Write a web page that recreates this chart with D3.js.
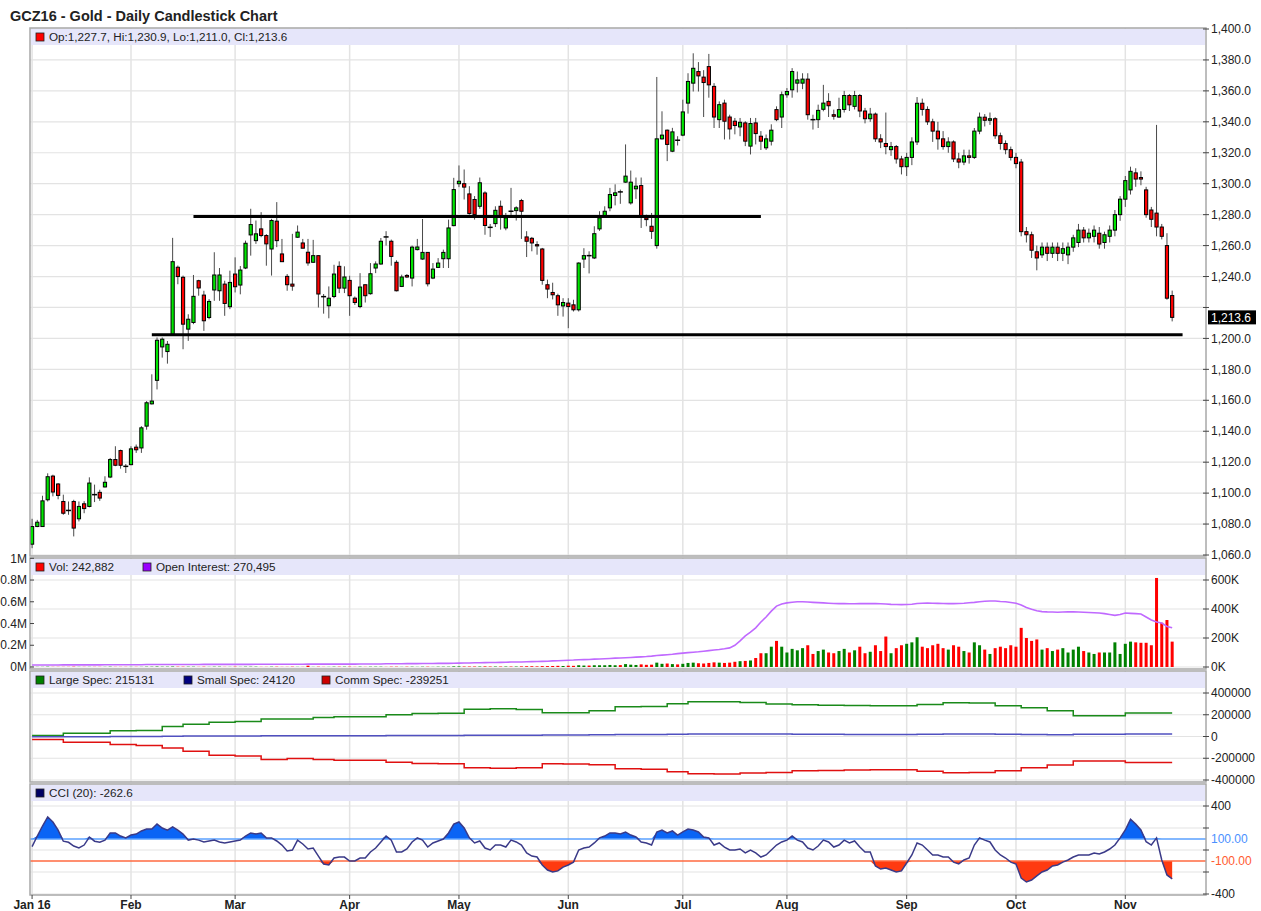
<!DOCTYPE html>
<html><head><meta charset="utf-8">
<script src="https://cdn.jsdelivr.net/npm/d3@7"></script>
<style>body{margin:0;background:#fff;}svg{display:block;font-family:"Liberation Sans",Arial,sans-serif;}</style>
</head><body><svg id="c" width="1261" height="911"></svg>
<script>
// ---------------- DATA ----------------
const title = "GCZ16 - Gold - Daily Candlestick Chart";
const startDate = "2016-01-04";
const holidays = ["2016-01-18","2016-02-15","2016-03-25","2016-05-30","2016-07-04","2016-09-05"];
const monthLabels = ["Jan 16","Feb","Mar","Apr","May","Jun","Jul","Aug","Sep","Oct","Nov"];

const open = [
1067.0,1078.4,1078.4,1095.7,1111.0,1105.9,1094.6,1088.9,1094.6,1083.4,
1093.1,1091.4,1099.2,1100.5,1104.0,1110.4,1121.7,1127.5,1117.6,1118.4,
1129.7,1129.2,1143.3,1157.7,1172.9,1194.5,1191.5,1202.7,1246.0,1239.5,
1206.0,1210.3,1237.3,1228.0,1213.5,1231.3,1230.8,1235.1,1220.5,1241.6,
1234.5,1245.5,1266.9,1263.2,1270.8,1266.5,1257.8,1275.8,1254.6,1240.1,
1235.1,1265.4,1261.7,1255.7,1249.2,1253.5,1227.2,1221.1,1227.1,1246.6,
1232.5,1237.5,1226.0,1220.6,1234.7,1228.9,1245.5,1248.1,1265.8,1262.8,
1249.2,1233.6,1240.7,1239.0,1257.4,1251.3,1255.6,1239.0,1245.9,1251.5,
1251.5,1272.9,1300.0,1300.0,1293.4,1289.8,1285.4,1294.0,1272.0,1274.2,
1285.4,1271.4,1282.4,1282.6,1289.1,1265.6,1264.7,1260.6,1257.8,1234.7,
1229.7,1227.6,1221.0,1222.8,1221.7,1218.5,1251.3,1253.7,1252.0,1270.8,
1279.4,1284.4,1292.4,1294.9,1301.0,1287.6,1296.7,1298.8,1277.9,1272.5,
1260.0,1329.0,1334.6,1321.0,1328.3,1331.4,1352.1,1365.0,1372.5,1368.9,
1375.7,1362.9,1341.4,1352.1,1343.1,1340.4,1336.7,1339.3,1324.3,1339.3,
1330.7,1323.2,1327.5,1347.9,1343.1,1357.5,1360.7,1365.0,1365.0,1367.6,
1341.6,1341.4,1348.1,1353.2,1344.6,1343.1,1348.0,1357.0,1350.0,1357.0,
1347.0,1342.0,1345.0,1329.0,1326.0,1322.0,1324.0,1316.0,1311.0,1317.0,
1327.0,1352.0,1348.0,1340.0,1334.0,1329.0,1324.0,1327.0,1316.0,1314.0,
1318.0,1317.0,1334.0,1343.0,1341.0,1342.0,1331.0,1326.0,1322.0,1317.0,
1314.0,1269.0,1267.0,1256.0,1254.0,1259.0,1255.0,1259.0,1255.0,1254.0,
1259.0,1262.0,1270.0,1265.0,1266.0,1268.0,1262.0,1266.0,1270.0,1280.0,
1290.0,1296.0,1307.0,1304.0,1296.0,1283.0,1281.0,1272.0,1260.0,1227.7];
const high = [
1083.4,1082.7,1098.3,1112.8,1111.9,1106.5,1099.0,1094.6,1095.7,1094.6,
1094.8,1110.2,1105.5,1102.2,1110.9,1122.7,1130.3,1128.1,1118.8,1130.3,
1131.4,1143.3,1159.5,1176.8,1200.6,1200.6,1198.3,1265.0,1247.1,1240.6,
1215.6,1241.0,1237.9,1230.8,1225.4,1255.7,1245.5,1237.3,1243.8,1252.4,
1246.8,1263.2,1283.8,1276.2,1281.6,1267.4,1277.3,1288.1,1264.3,1241.6,
1267.6,1273.0,1264.3,1264.3,1263.7,1253.5,1228.7,1233.6,1247.6,1249.8,
1246.6,1240.5,1227.1,1242.2,1234.7,1248.7,1249.8,1264.9,1269.3,1263.9,
1250.5,1241.2,1241.6,1260.0,1264.3,1277.2,1255.6,1248.7,1251.9,1257.4,
1276.8,1303.8,1311.8,1309.2,1298.4,1292.0,1304.0,1295.1,1274.0,1285.4,
1289.1,1281.1,1297.3,1285.4,1290.2,1269.3,1265.6,1262.8,1258.5,1238.0,
1236.0,1228.9,1226.0,1226.0,1225.0,1249.2,1258.3,1256.3,1272.5,1282.2,
1285.4,1297.3,1299.6,1296.2,1325.4,1308.5,1304.0,1304.0,1280.0,1281.1,
1369.0,1346.8,1335.0,1336.1,1330.7,1354.3,1371.4,1384.3,1378.6,1373.4,
1383.9,1365.0,1353.2,1354.3,1344.6,1342.5,1342.5,1340.4,1342.5,1342.5,
1334.0,1331.8,1338.4,1350.0,1359.6,1361.8,1374.7,1372.5,1371.4,1371.4,
1344.6,1351.1,1363.9,1358.5,1347.9,1355.6,1360.0,1358.0,1360.0,1358.0,
1349.0,1349.0,1346.0,1332.0,1346.0,1327.0,1325.0,1318.0,1320.0,1330.0,
1356.0,1355.0,1350.0,1342.0,1340.0,1334.0,1330.0,1328.0,1320.0,1322.0,
1322.0,1336.0,1346.0,1345.0,1346.0,1343.0,1333.0,1328.0,1324.0,1320.0,
1316.0,1272.0,1269.0,1260.0,1262.0,1262.0,1262.0,1262.0,1262.0,1262.0,
1267.0,1274.0,1272.0,1271.0,1273.0,1272.0,1269.0,1273.0,1283.0,1292.0,
1305.0,1311.0,1310.0,1308.0,1298.0,1285.0,1338.0,1274.0,1268.0,1230.9];
const low = [
1064.4,1078.0,1078.4,1094.6,1097.9,1096.0,1086.0,1086.0,1072.0,1081.7,
1087.0,1090.8,1094.2,1095.0,1103.6,1109.7,1117.4,1115.8,1113.0,1118.0,
1126.0,1126.0,1141.0,1157.3,1167.0,1187.6,1183.7,1202.3,1235.0,1193.0,
1198.4,1209.2,1227.6,1204.9,1212.4,1224.3,1224.3,1214.6,1218.9,1229.7,
1228.5,1244.8,1253.5,1261.1,1265.4,1247.0,1240.6,1259.0,1249.6,1230.8,
1230.8,1265.0,1259.0,1247.0,1249.0,1220.0,1216.0,1213.0,1226.0,1229.3,
1229.3,1214.6,1221.6,1219.5,1223.2,1228.3,1242.2,1247.6,1260.0,1247.0,
1230.4,1233.2,1239.0,1233.6,1256.9,1250.8,1233.6,1238.3,1245.5,1245.5,
1245.5,1272.5,1297.8,1289.8,1280.0,1276.8,1283.8,1267.0,1265.6,1272.0,
1270.3,1269.9,1278.5,1276.2,1264.3,1252.6,1256.3,1254.1,1234.7,1226.0,
1225.2,1214.6,1214.1,1206.6,1217.4,1217.4,1245.5,1242.0,1251.3,1269.5,
1278.5,1282.2,1286.0,1287.0,1300.6,1286.5,1290.2,1271.4,1272.5,1264.3,
1258.0,1328.5,1314.6,1320.4,1324.7,1330.7,1345.3,1359.6,1359.6,1343.1,
1355.6,1336.0,1336.0,1328.6,1328.6,1331.9,1330.7,1324.3,1318.9,1325.4,
1321.8,1321.8,1324.7,1340.4,1336.0,1355.6,1355.6,1359.0,1361.1,1341.4,
1335.0,1336.0,1346.8,1343.1,1341.4,1342.5,1346.0,1347.0,1348.0,1343.0,
1339.0,1340.0,1327.0,1323.0,1319.0,1318.0,1313.0,1306.0,1305.0,1312.0,
1325.0,1344.0,1338.0,1327.0,1322.0,1322.0,1320.0,1314.0,1310.0,1312.0,
1313.0,1316.0,1332.0,1337.0,1338.0,1329.0,1322.0,1319.0,1315.0,1310.0,
1266.0,1262.0,1252.0,1244.0,1252.0,1250.0,1252.0,1250.0,1250.0,1248.0,
1256.0,1259.0,1262.0,1262.0,1262.0,1258.0,1258.0,1262.0,1266.0,1276.0,
1285.0,1293.0,1298.0,1299.0,1278.0,1272.0,1266.0,1264.0,1225.0,1211.0];
const close = [
1078.4,1081.2,1095.0,1110.6,1100.7,1098.5,1087.0,1088.7,1077.4,1091.4,
1090.0,1106.5,1098.8,1096.8,1107.0,1121.7,1118.0,1118.0,1117.0,1128.6,
1128.0,1142.2,1158.4,1159.5,1198.8,1199.5,1196.2,1249.6,1240.0,1209.2,
1212.4,1227.2,1232.6,1211.4,1223.9,1241.0,1241.0,1222.6,1236.2,1233.4,
1244.2,1261.5,1273.6,1267.6,1266.5,1261.1,1276.2,1263.2,1249.6,1234.7,
1233.8,1268.7,1258.3,1248.8,1253.5,1228.7,1226.8,1226.0,1241.6,1232.5,
1239.7,1227.6,1223.2,1233.2,1227.6,1241.8,1248.1,1262.8,1265.4,1253.0,
1230.8,1239.7,1239.7,1259.0,1259.1,1255.6,1235.3,1244.8,1248.7,1255.6,
1271.4,1296.2,1301.6,1297.8,1280.7,1280.0,1300.6,1273.0,1271.6,1282.8,
1279.0,1277.9,1282.0,1284.4,1282.2,1262.8,1261.7,1259.8,1237.5,1231.9,
1228.2,1221.7,1223.2,1220.6,1218.5,1248.7,1253.5,1253.3,1267.7,1277.9,
1282.2,1293.0,1294.1,1294.5,1304.9,1301.0,1298.4,1279.0,1276.8,1269.2,
1329.0,1331.4,1325.4,1333.5,1327.9,1346.4,1366.1,1374.6,1369.7,1365.4,
1363.9,1343.1,1351.1,1340.4,1335.4,1337.6,1339.7,1327.5,1338.9,1332.4,
1327.5,1329.0,1334.6,1341.4,1357.5,1359.6,1372.5,1367.1,1367.6,1344.6,
1341.2,1347.4,1352.1,1350.4,1343.6,1347.9,1357.0,1351.0,1357.0,1347.0,
1342.0,1345.0,1329.0,1327.0,1324.0,1324.0,1316.0,1311.0,1317.0,1327.0,
1352.0,1348.0,1340.0,1334.0,1329.0,1324.0,1327.0,1316.0,1314.0,1318.0,
1317.0,1334.0,1343.0,1341.0,1342.0,1331.0,1326.0,1322.0,1317.0,1313.0,
1269.0,1267.0,1257.0,1252.0,1259.0,1255.0,1259.0,1255.0,1258.0,1259.0,
1265.0,1270.0,1265.0,1268.0,1270.0,1261.0,1267.0,1270.0,1280.0,1290.0,
1302.0,1308.0,1303.0,1303.0,1280.0,1277.0,1272.0,1266.0,1226.0,1213.6];

// volume and open interest, thousands of contracts
const volume = [
1,1,1,2,1,1,1,1,2,1, 1,1,1,1,1,2,1,1,1,1, 1,1,2,2,3,2,2,3,2,2, 2,2,1,2,1,2,2,1,1,2,
1,2,2,2,1,1,2,2,1,1, 2,1,1,9,1,2,1,1,2,2, 2,2,1,2,1,2,2,2,1,2, 2,1,2,2,1,2,2,1,2,2,
2,4,4,3,3,3,3,4,3,3, 3,3,3,3,4,5,5,4,6,6, 7,8,7,9,8,12,10,10,12,12, 12,14,12,13,20,16,14,18,15,16,
30,22,24,20,18,22,28,30,26,24, 28,32,30,28,30,36,40,42,45,62, 95,95,140,180,140,100,125,115,130,150,
90,110,120,100,95,110,125,100,115,140, 95,105,150,110,210,95,130,150,160,170,
205,140,130,150,160,130,120,150,140,110, 100,170,150,120,90,130,140,130,150,140,
270,200,180,190,120,130,110,120,130,100, 120,140,110,100,90,100,100,100,170,90,
160,175,170,167,167,150,614,305,324,175];
const openInterest = [
14,14,14,14,14,14,15,15,15,15, 15,15,15,15,16,16,16,16,16,16, 16,16,17,17,17,17,17,17,17,17,
17,17,17,18,18,18,18,18,18,18, 18,18,18,19,19,19,19,19,19,19, 19,19,19,20,20,20,20,20,20,20,
20,20,20,21,21,21,21,21,22,22, 22,22,23,23,23,24,24,24,25,25, 25,26,27,28,28,29,29,30,31,31,
32,33,34,34,35,36,37,38,39,40, 42,43,45,47,48,50,51,52,54,55, 57,59,61,62,64,66,68,70,72,75,
79,82,85,88,92,96,99,102,105,109, 113,117,121,126,132,150,180,214,240,270,
310,345,385,420,435,442,447,450,450,448, 446,444,442,440,438,437,437,436,436,437,
437,438,437,436,434,432,431,430,431,433, 438,440,441,440,439,438,437,437,438,440,
443,446,450,453,455,455,452,450,445,440, 427,410,398,388,382,380,379,378,379,380,
380,379,378,376,374,372,368,362,356,362, 372,370,368,365,345,324,310,303,280,270.5];

// Commitments of Traders (weekly, thousands of contracts)
const cotDates = ["2016-01-04","2016-01-12","2016-01-19","2016-01-26","2016-02-02","2016-02-09","2016-02-16","2016-02-23",
"2016-03-01","2016-03-08","2016-03-15","2016-03-22","2016-03-29","2016-04-05","2016-04-12","2016-04-19","2016-04-26",
"2016-05-03","2016-05-10","2016-05-17","2016-05-24","2016-05-31","2016-06-07","2016-06-14","2016-06-21","2016-06-28",
"2016-07-05","2016-07-12","2016-07-19","2016-07-26","2016-08-02","2016-08-09","2016-08-16","2016-08-23","2016-08-30",
"2016-09-06","2016-09-13","2016-09-20","2016-09-27","2016-10-04","2016-10-11","2016-10-18","2016-10-25","2016-11-01"];
const largeSpec = [9,30,30,52,55,91,112,130,139,161,161,175,182,182,200,212,214,250,255,248,218,218,236,273,275,301,319,320,312,300,292,288,286,282,282,295,310,308,282,264,236,190,190,215.131];
const smallSpec = [-3,-2,-2,0,0,3,4,5,5,6,6,8,8,8,9,10,10,12,12,12,14,14,16,18,18,20,22,22,22,22,20,20,18,18,18,20,22,22,20,18,16,20,20,24.12];
const commSpec = [-27,-52,-52,-73,-82,-106,-136,-173,-179,-212,-203,-212,-218,-218,-236,-248,-250,-288,-292,-288,-251,-253,-260,-297,-300,-325,-343,-344,-335,-330,-316,-312,-308,-306,-306,-320,-334,-332,-316,-288,-262,-225,-225,-239.251];

const cci = [
30,127,218,300,254,180,80,70,36,18, 45,118,80,70,90,155,155,127,110,136,
145,173,190,190,236,200,180,210,180,145, 90,100,90,73,82,90,73,64,73,82,
90,127,155,145,155,110,110,82,45,-9, 0,90,55,9,18,-55,-127,-136,-73,-64,
-64,-100,-100,-73,-73,-18,18,73,127,90, -18,-18,9,73,110,90,27,64,82,100,
155,236,255,200,110,64,82,18,0,45, 45,27,90,73,45,-27,-55,-64,-136,-182,
-200,-190,-155,-136,-110,0,18,27,64,110, 127,155,155,145,164,136,118,73,64,45,
164,182,155,173,136,164,190,182,164,118, 110,45,64,27,0,0,9,-27,0,-27,
-64,-45,0,45,73,90,127,90,73,18, 0,36,90,73,27,45,90,64,82,27,
-18,-18,-145,-173,-164,-182,-200,-190,-118,-45, 64,45,0,-45,-45,-64,-64,-110,-127,-91,
-73,45,110,90,73,0,-45,-73,-110,-127, -255,-291,-273,-236,-200,-182,-145,-136,-110,-91,
-64,-45,-45,-45,-27,-36,-18,9,45,110, 182,279,235,182,75,45,110,-91,-227,-262.6];

const supportLines = [
  {from:"2016-02-18", to:"2016-07-25", price:1278.8},
  {from:"2016-02-05", to:"2016-11-16", price:1202.4}
];
const priceTicks = d3.range(1060, 1401, 20);
const volRightTicks = [0,200,400,600];
const volLeftTicks = [0,200,400,600,800,1000];
const cotTicks = [400,200,0,-200,-400];
const cciTicks = [400,200,0,-200,-400];
const legendMain = "Op:1,227.7, Hi:1,230.9, Lo:1,211.0, Cl:1,213.6";
const legendVol = ["Vol: 242,882","Open Interest: 270,495"];
const legendCot = ["Large Spec: 215131","Small Spec: 24120","Comm Spec: -239251"];
const legendCci = "CCI (20): -262.6";
const lastLabel = "1,213.6";

// ---------------- CALENDAR ----------------
const hol = new Set(holidays);
const days = [];
{
  const d = new Date(startDate + "T00:00:00Z");
  while (days.length < 226) {
    const s = d.toISOString().slice(0,10), wd = d.getUTCDay();
    if (wd !== 0 && wd !== 6 && !hol.has(s)) days.push(s);
    d.setUTCDate(d.getUTCDate() + 1);
  }
}
const idx = new Map(days.map((s,i)=>[s,i]));
const n = close.length;
const monthStarts = days.map((s,i)=>i).filter(i => i===0 || days[i].slice(5,7)!==days[i-1].slice(5,7)).slice(0, monthLabels.length);

// ---------------- LAYOUT ----------------
const svg = d3.select("#c");
const X0 = 30, X1 = 1206;
const FONT = '"Liberation Sans", Arial, sans-serif';
const LF = 11.7;
const x = d3.scaleLinear().domain([-0.4, 225.5]).range([X0, X1]);
const P = {
  main:{top:28,bottom:556}, vol:{top:558,bottom:669}, cot:{top:671,bottom:782}, cci:{top:784,bottom:895}
};
const yP = d3.scaleLinear().domain([1060,1400]).range([555,29]);
const yV = d3.scaleLinear().domain([0,600]).range([667,580]);
const yVL = d3.scaleLinear().domain([0,1000]).range([667,558.3]);
const yC = d3.scaleLinear().domain([-400,400]).range([780,693]);
const yI = d3.scaleLinear().domain([-400,400]).range([894,806]);

svg.append("rect").attr("width",1261).attr("height",911).attr("fill","#fff");

function panelBase(p, hTicks, yS) {
  const g = svg.append("g");
  g.selectAll("line.h").data(hTicks).join("line")
    .attr("x1",X0).attr("x2",X1).attr("y1",d=>yS(d)).attr("y2",d=>yS(d))
    .attr("stroke","#e3e3e3").attr("stroke-width",1.2);
  g.selectAll("line.v").data(monthStarts).join("line")
    .attr("x1",d=>x(d)).attr("x2",d=>x(d)).attr("y1",p.top).attr("y2",p.bottom)
    .attr("stroke","#e3e3e3").attr("stroke-width",1.5);
  g.append("rect").attr("x",X0+1).attr("y",p.top+1).attr("width",X1-X0-2).attr("height",16)
    .attr("fill","#e6e6fa");
  return g;
}
function frame(p){
  svg.append("rect").attr("x",X0).attr("y",p.top).attr("width",X1-X0).attr("height",p.bottom-p.top)
    .attr("fill","none").attr("stroke","#a8a8a8").attr("stroke-width",1.5);
}
function rightAxis(ticks, yS, fmt) {
  const g = svg.append("g");
  ticks.forEach(t=>{
    g.append("line").attr("x1",X1-3).attr("x2",X1+3).attr("y1",yS(t)).attr("y2",yS(t)).attr("stroke","#444");
    if (fmt) {
      const s = fmt(t);
      if (s !== null) g.append("text").attr("x",X1+5).attr("y",yS(t)).attr("dy","0.35em")
        .attr("font-size",12).attr("font-family",FONT).attr("fill","#222").text(s);
    }
  });
}
function legend(p, items){
  items.forEach(it=>{
    svg.append("rect").attr("x",it.x).attr("y",p.top+5).attr("width",8).attr("height",8)
      .attr("fill",it.color).attr("stroke","#222").attr("stroke-width",0.8);
    svg.append("text").attr("x",it.x+13).attr("y",p.top+13).attr("font-size",LF).attr("font-family",FONT)
      .attr("fill","#222").text(it.text);
  });
}

// Title
svg.append("text").attr("x",10).attr("y",21).attr("font-size",14.5).attr("font-weight","bold")
  .attr("font-family",FONT).attr("fill","#222").text(title);

// ---------------- MAIN PANEL ----------------
panelBase(P.main, priceTicks, yP);
const gC = svg.append("g");
const GREEN = "#00e600", RED = "#ff0000";
for (let i=0;i<n;i++){
  const cx = x(i);
  gC.append("line").attr("x1",cx).attr("x2",cx).attr("y1",yP(high[i])).attr("y2",yP(low[i]))
    .attr("stroke","#4a4a4a").attr("stroke-width",1);
  const yo = yP(open[i]), yc = yP(close[i]);
  if (Math.abs(yo-yc) < 1.2) {
    gC.append("line").attr("x1",cx-2.5).attr("x2",cx+2.5).attr("y1",(yo+yc)/2).attr("y2",(yo+yc)/2)
      .attr("stroke","#000").attr("stroke-width",1.5);
  } else {
    gC.append("rect").attr("x",cx-1.6).attr("width",3.2).attr("y",Math.min(yo,yc)).attr("height",Math.abs(yo-yc))
      .attr("fill", close[i]>=open[i]?GREEN:RED).attr("stroke","#000").attr("stroke-width",1);
  }
}
supportLines.forEach(l=>{
  svg.append("line").attr("x1",x(idx.get(l.from))).attr("x2",x(idx.get(l.to)))
    .attr("y1",yP(l.price)).attr("y2",yP(l.price)).attr("stroke","#000").attr("stroke-width",3);
});
frame(P.main);
const lastY = yP(close[n-1]);
rightAxis(priceTicks, yP, d => Math.abs(yP(d)-lastY) < 13 ? null : d3.format(",.1f")(d));
legend(P.main, [{x:36,color:RED,text:legendMain}]);
// last price box
svg.append("rect").attr("x",X1+2).attr("y",lastY-7).attr("width",48).attr("height",14).attr("fill","#000");
svg.append("text").attr("x",X1+5).attr("y",lastY).attr("dy","0.35em").attr("font-size",12)
  .attr("font-family",FONT).attr("fill","#fff").text(lastLabel);

// ---------------- VOLUME PANEL ----------------
panelBase(P.vol, volRightTicks, yV);
const gV = svg.append("g");
for (let i=0;i<n;i++){
  const cx = x(i);
  gV.append("rect").attr("x",cx-1.5).attr("width",3).attr("y",yV(volume[i])).attr("height",yV(0)-yV(volume[i]))
    .attr("fill", close[i]>=open[i]?"#008000":RED);
}
svg.append("path").datum(openInterest).attr("fill","none").attr("stroke","#c069ff").attr("stroke-width",1.6)
  .attr("d", d3.line().x((d,i)=>x(i)).y(d=>yV(d)));
frame(P.vol);
rightAxis(volRightTicks, yV, d=>d+"K");
volLeftTicks.forEach(t=>{
  svg.append("line").attr("x1",X0).attr("x2",X0+4).attr("y1",yVL(t)).attr("y2",yVL(t)).attr("stroke","#444");
  svg.append("text").attr("x",X0-3).attr("y",yVL(t)).attr("dy","0.35em").attr("text-anchor","end")
    .attr("font-size",12).attr("font-family",FONT).attr("fill","#222").text((t/1000)+"M");
});
legend(P.vol, [{x:36,color:RED,text:legendVol[0]},{x:143,color:"#9900ff",text:legendVol[1]}]);

// ---------------- COT PANEL ----------------
panelBase(P.cot, cotTicks, yC);
const cotX = cotDates.map(s=>idx.get(s));
function cotPath(vals, color){
  const pts = vals.map((v,k)=>[cotX[k], v]);
  pts.push([n-1, vals[vals.length-1]]);
  pts[0][0] = 0;
  svg.append("path").datum(pts).attr("fill","none").attr("stroke",color).attr("stroke-width",1.5)
    .attr("d", d3.line().curve(d3.curveStepAfter).x(d=>x(d[0])).y(d=>yC(d[1])));
}
cotPath(largeSpec, "#1a8a1a");
cotPath(smallSpec, "#5050c0");
cotPath(commSpec, "#e01010");
frame(P.cot);
rightAxis(cotTicks, yC, d=>String(d*1000));
legend(P.cot, [{x:36,color:"#008000",text:legendCot[0]},{x:184,color:"#000080",text:legendCot[1]},{x:322,color:"#cc0000",text:legendCot[2]}]);

// ---------------- CCI PANEL ----------------
panelBase(P.cci, cciTicks, yI);
const cciPts = cci.map((v,i)=>[i,v]);
const defs = svg.append("defs");
defs.append("clipPath").attr("id","cUp").append("rect").attr("x",X0).attr("y",P.cci.top).attr("width",X1-X0).attr("height",yI(100)-P.cci.top);
defs.append("clipPath").attr("id","cDn").append("rect").attr("x",X0).attr("y",yI(-100)).attr("width",X1-X0).attr("height",P.cci.bottom-yI(-100));
svg.append("path").datum(cciPts).attr("clip-path","url(#cUp)").attr("fill","#0a64f5")
  .attr("d", d3.area().x(d=>x(d[0])).y0(yI(100)).y1(d=>yI(Math.max(d[1],100))));
svg.append("path").datum(cciPts).attr("clip-path","url(#cDn)").attr("fill","#ff3a10")
  .attr("d", d3.area().x(d=>x(d[0])).y0(yI(-100)).y1(d=>yI(Math.min(d[1],-100))));
svg.append("line").attr("x1",X0).attr("x2",X1).attr("y1",yI(100)).attr("y2",yI(100)).attr("stroke","#5aa0ff").attr("stroke-width",1.5);
svg.append("line").attr("x1",X0).attr("x2",X1).attr("y1",yI(-100)).attr("y2",yI(-100)).attr("stroke","#ff6a40").attr("stroke-width",1.5);
svg.append("path").datum(cciPts).attr("fill","none").attr("stroke","#3a3a88").attr("stroke-width",1.5)
  .attr("d", d3.line().x(d=>x(d[0])).y(d=>yI(d[1])));
frame(P.cci);
rightAxis(cciTicks, yI, d=> (d===400||d===-400) ? String(d) : null);
svg.append("text").attr("x",X1+5).attr("y",yI(100)).attr("dy","0.35em").attr("font-size",12).attr("font-family",FONT).attr("fill","#4a90ff").text("100.00");
svg.append("text").attr("x",X1+5).attr("y",yI(-100)).attr("dy","0.35em").attr("font-size",12).attr("font-family",FONT).attr("fill","#ff5a30").text("-100.00");
legend(P.cci, [{x:36,color:"#000066",text:legendCci}]);

// ---------------- X AXIS ----------------
monthStarts.forEach((mi,k)=>{
  svg.append("line").attr("x1",x(mi)).attr("x2",x(mi)).attr("y1",P.cci.bottom).attr("y2",P.cci.bottom+4).attr("stroke","#444");
  svg.append("text").attr("x",x(mi)).attr("y",909).attr("text-anchor","middle").attr("font-size",12)
    .attr("font-weight","bold").attr("font-family",FONT).attr("fill","#222").text(monthLabels[k]);
});
</script></body></html>
